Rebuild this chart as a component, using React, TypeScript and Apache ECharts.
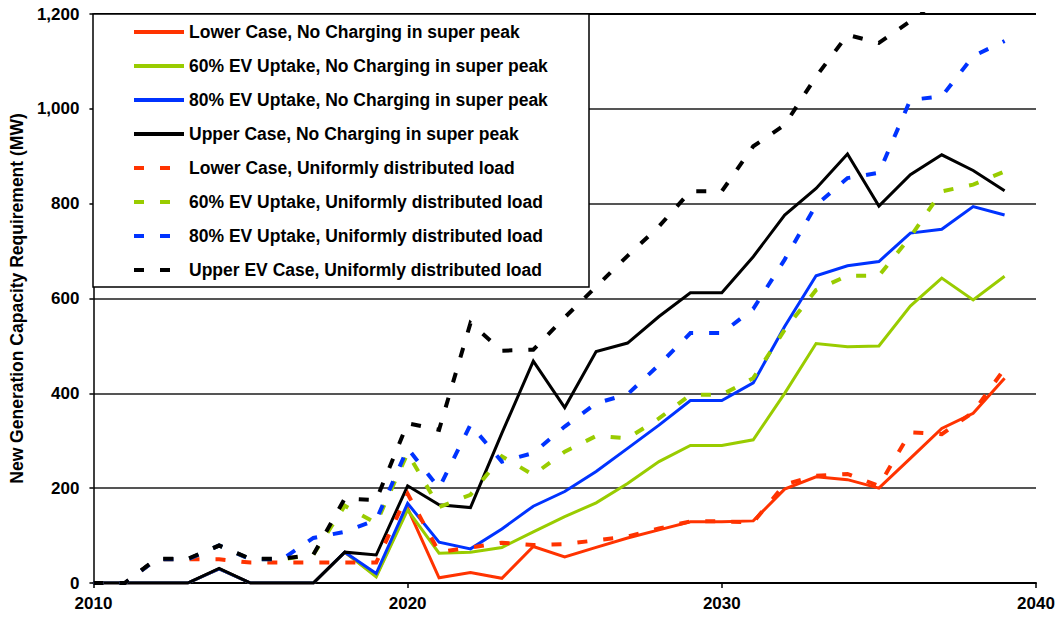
import React, { useEffect, useRef } from "react";
import * as echarts from "echarts";

const years = [
  2010, 2011, 2012, 2013, 2014, 2015, 2016, 2017, 2018, 2019,
  2020, 2021, 2022, 2023, 2024, 2025, 2026, 2027, 2028, 2029,
  2030, 2031, 2032, 2033, 2034, 2035, 2036, 2037, 2038, 2039,
];

const seriesNames = [
  "Lower Case, No Charging in super peak",
  "60% EV Uptake, No Charging in super peak",
  "80% EV Uptake, No Charging in super peak",
  "Upper Case, No Charging in super peak",
  "Lower Case, Uniformly distributed load",
  "60% EV Uptake, Uniformly distributed load",
  "80% EV Uptake, Uniformly distributed load",
  "Upper EV Case, Uniformly distributed load",
];

const lowerNoCharge = [0, 0, 0, 0, 30, 0, 0, 0, 65, 15, 158, 11, 22, 10, 77, 55, 75, 95, 112, 129, 129, 131, 198, 224, 218, 200, 263, 326, 358, 432];
const ev60NoCharge = [0, 0, 0, 0, 30, 0, 0, 0, 65, 13, 154, 63, 65, 75, 108, 140, 169, 210, 256, 290, 290, 302, 400, 505, 498, 500, 584, 643, 597, 647];
const ev80NoCharge = [0, 0, 0, 0, 30, 0, 0, 0, 65, 20, 168, 86, 72, 114, 162, 193, 235, 284, 333, 385, 385, 422, 541, 648, 669, 678, 738, 746, 794, 776];
const upperNoCharge = [0, 0, 0, 0, 31, 0, 0, 0, 65, 59, 205, 165, 159, 316, 468, 370, 488, 506, 562, 612, 612, 688, 776, 832, 905, 795, 861, 903, 870, 827];
const lowerUniform = [0, 0, 50, 50, 50, 43, 43, 43, 43, 43, 188, 65, 75, 85, 80, 82, 90, 98, 115, 130, 130, 128, 208, 226, 230, 205, 318, 314, 360, 452];
const ev60Uniform = [0, 0, 50, 50, 79, 50, 50, 60, 163, 126, 274, 160, 186, 267, 228, 277, 310, 305, 347, 397, 397, 432, 534, 618, 648, 648, 730, 826, 840, 868];
const ev80Uniform = [0, 0, 50, 50, 79, 50, 50, 95, 108, 133, 284, 200, 334, 256, 274, 330, 379, 398, 460, 527, 527, 578, 682, 797, 854, 865, 1019, 1026, 1111, 1143];
const upperUniform = [0, 0, 51, 51, 79, 51, 51, 60, 178, 175, 337, 323, 548, 490, 492, 560, 625, 690, 752, 826, 826, 921, 966, 1068, 1156, 1139, 1185, 1235, 1290, 1330];

const seriesValues = [
  lowerNoCharge, ev60NoCharge, ev80NoCharge, upperNoCharge,
  lowerUniform, ev60Uniform, ev80Uniform, upperUniform,
];
const seriesColors = ["#FF3300", "#99CC00", "#0033FF", "#000000", "#FF3300", "#99CC00", "#0033FF", "#000000"];
const seriesDashed = [false, false, false, false, true, true, true, true];

const yAxisTitle = "New Generation Capacity Requirement (MW)";
const FONT = "'Liberation Sans', Arial, Helvetica, sans-serif";

export default function App() {
  const ref = useRef<HTMLDivElement>(null);
  useEffect(() => {
    if (!ref.current) return;
    const chart = echarts.init(ref.current, null, { renderer: "svg" });
    const series = seriesNames.map((name, i) => ({
      name,
      type: "line",
      data: years.map((yr, j) => [yr, seriesValues[i][j]]),
      symbol: "none",
      showSymbol: false,
      clip: true,
      z: 2,
      lineStyle: {
        color: seriesColors[i],
        width: seriesDashed[i] ? 4 : 3,
        type: seriesDashed[i] ? [10, 16] : "solid",
        cap: "butt",
        join: "miter",
      },
      itemStyle: { color: seriesColors[i] },
    }));
    const legends = seriesNames.map((name, i) => ({
      data: [name],
      left: 132,
      top: 23 + 34 * i,
      orient: "horizontal",
      padding: 0,
      itemWidth: 50,
      itemHeight: 14,
      itemGap: 0,
      selectedMode: false,
      z: 10,
      itemStyle: { color: "transparent", borderWidth: 0, opacity: 0 },
      lineStyle: { width: 4 },
      textStyle: { fontSize: 17.5, fontWeight: "bold", color: "#000", fontFamily: FONT, lineHeight: 18 },
    }));
    chart.setOption({
      animation: false,
      backgroundColor: "#ffffff",
      grid: { left: 93, right: 24, top: 14, bottom: 38, containLabel: false },
      graphic: [
        {
          type: "rect",
          z: 1,
          shape: { x: 93, y: 14, width: 496, height: 273 },
          style: { fill: "#ffffff", stroke: "#000000", lineWidth: 1.5 },
        },
      ],
      legend: legends,
      xAxis: {
        type: "value",
        min: 2010,
        max: 2040,
        interval: 10,
        axisLine: { show: true, lineStyle: { color: "#000", width: 2 } },
        axisTick: { show: true, inside: false, length: 5, lineStyle: { color: "#000", width: 1.5 } },
        axisLabel: {
          fontSize: 17,
          fontWeight: "bold",
          color: "#000",
          fontFamily: FONT,
          margin: 12,
          formatter: (v: number) => String(v),
        },
        splitLine: { show: false },
      },
      yAxis: {
        type: "value",
        min: 0,
        max: 1200,
        interval: 200,
        name: yAxisTitle,
        nameLocation: "middle",
        nameGap: 65,
        nameTextStyle: { fontSize: 17.5, fontWeight: "bold", color: "#000", fontFamily: FONT },
        axisLine: { show: true, lineStyle: { color: "#000", width: 1.5 } },
        axisTick: { show: true, inside: false, length: 4, lineStyle: { color: "#000", width: 1.5 } },
        axisLabel: {
          fontSize: 17,
          fontWeight: "bold",
          color: "#000",
          fontFamily: FONT,
          margin: 14,
          formatter: (v: number) => v.toLocaleString("en-US"),
        },
        splitLine: {
          show: true,
          lineStyle: {
            color: ["#555555", "#555555", "#555555", "#555555", "#555555", "#555555", "#000000"],
            width: 2,
          },
        },
      },
      series,
    });
    return () => chart.dispose();
  }, []);
  return (
    <div
      ref={ref}
      style={{ position: "absolute", left: 0, top: 0, width: 1060, height: 621 }}
    />
  );
}
